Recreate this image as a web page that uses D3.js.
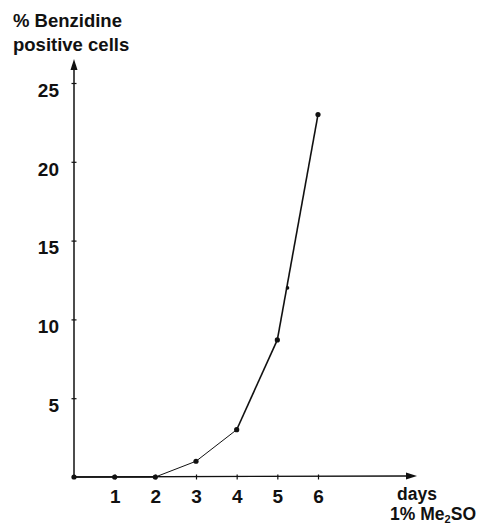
<!DOCTYPE html>
<html>
<head>
<meta charset="utf-8">
<script src="https://cdn.jsdelivr.net/npm/d3@7"></script>
<style>
  body { margin: 0; background: #fff; }
  text { font-family: "Liberation Sans", Arial, sans-serif; font-weight: bold; fill: #111; }
</style>
</head>
<body>
<svg id="chart" width="477" height="526"></svg>
<script>
// data
var days = [0, 1, 2, 3, 4, 5, 6]
var benzPositive = [0, 0, 0, 1, 3, 8.7, 23]
var strayDay = [5.25]
var strayValue = [12]
var yTicks = [5, 10, 15, 20, 25]
var xTicks = [1, 2, 3, 4, 5, 6]

var svg = d3.select("#chart")

var x = d3.scaleLinear().domain([0, 6]).range([74, 318])
var y = d3.scaleLinear().domain([0, 25]).range([477, 83])

// y axis
var yAxis = svg.append("g")
  .attr("transform", "translate(" + x(0) + ",0)")
  .call(d3.axisLeft(y).tickValues(yTicks).tickFormat(d3.format("d")).tickSize(3).tickPadding(12))
yAxis.select(".domain").remove()
yAxis.selectAll(".tick line").attr("x1", -2.5).attr("x2", 2.5)
  .attr("stroke", "#111").attr("stroke-width", 1.2)
yAxis.selectAll(".tick text")
  .attr("font-size", 19).attr("font-family", null)
  .attr("dy", "0.7em").attr("fill", "#111")

svg.append("line")
  .attr("x1", x(0)).attr("y1", y(0))
  .attr("x2", x(0)).attr("y2", 66)
  .attr("stroke", "#111").attr("stroke-width", 1.5)
svg.append("path")
  .attr("d", "M" + (x(0) - 3.5) + ",70 L" + x(0) + ",59 L" + (x(0) + 3.5) + ",70 Z")
  .attr("fill", "#111")

// x axis
var xAxis = svg.append("g")
  .attr("transform", "translate(0," + y(0) + ")")
  .call(d3.axisBottom(x).tickValues(xTicks).tickFormat(d3.format("d")).tickSize(3).tickPadding(10))
xAxis.select(".domain").remove()
xAxis.selectAll(".tick line").attr("y1", -2.5).attr("y2", 2.5)
  .attr("stroke", "#111").attr("stroke-width", 1.2)
xAxis.selectAll(".tick text")
  .attr("font-size", 19).attr("font-family", null).attr("fill", "#111")

svg.append("line")
  .attr("x1", x(0)).attr("y1", y(0))
  .attr("x2", 408).attr("y2", y(0) - 1)
  .attr("stroke", "#111").attr("stroke-width", 1.3)
svg.append("path")
  .attr("d", "M406," + (y(0) - 4.5) + " L417," + (y(0) - 1) + " L406," + (y(0) + 2.5) + " Z")
  .attr("fill", "#111")

// line, segment by segment (2-4 drawn thinner in the original)
var pts = days.map(function(d, i) { return [x(d), y(benzPositive[i])] })
for (var i = 0; i < pts.length - 1; i++) {
  svg.append("line")
    .attr("x1", pts[i][0]).attr("y1", pts[i][1])
    .attr("x2", pts[i + 1][0]).attr("y2", pts[i + 1][1])
    .attr("stroke", "#111")
    .attr("stroke-width", (i == 2 || i == 3) ? 1 : 1.6)
}

svg.selectAll(".dot")
  .data(days)
  .enter().append("circle")
  .attr("class", "dot")
  .attr("cx", function(d) { return x(d) })
  .attr("cy", function(d, i) { return y(benzPositive[i]) })
  .attr("r", 2.6)
  .attr("fill", "#111")

svg.selectAll(".stray")
  .data(strayDay)
  .enter().append("circle")
  .attr("class", "stray")
  .attr("cx", function(d) { return x(d) })
  .attr("cy", function(d, i) { return y(strayValue[i]) })
  .attr("r", 1.8)
  .attr("fill", "#111")

// labels
svg.append("text").attr("x", 13).attr("y", 27).attr("font-size", 18.5).text("% Benzidine")
svg.append("text").attr("x", 13).attr("y", 51).attr("font-size", 18.5).text("positive cells")
svg.append("text").attr("x", 417).attr("y", 500).attr("font-size", 17.5)
  .attr("text-anchor", "middle").text("days")
var sub = svg.append("text").attr("x", 476).attr("y", 520).attr("font-size", 17.5)
  .attr("text-anchor", "end")
sub.append("tspan").text("1% Me")
sub.append("tspan").attr("font-size", 11).attr("dy", 3).text("2")
sub.append("tspan").attr("dy", -3).text("SO")
</script>
</body>
</html>
